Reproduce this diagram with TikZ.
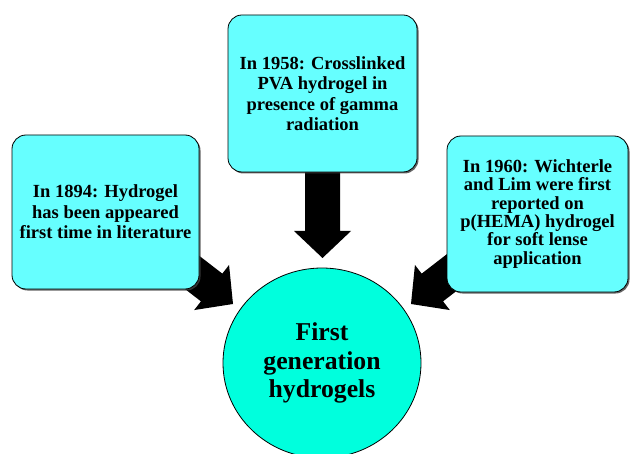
\documentclass[tikz,border=0pt]{standalone}
\usepackage{fontspec}
\setmainfont{Liberation Serif}
\usetikzlibrary{calc,shadows,shapes.geometric}

\definecolor{boxcyan}{RGB}{102,255,255}
\definecolor{discteal}{RGB}{0,255,221}

% Thick block arrow from #1 (tail, hidden under a box) to #2 (tip)
\newcommand\blockarrow[2]{%
  \coordinate (ab) at ($(#2)!27pt!(#1)$);
  \fill[arrowfill]
    ($(#1)!17.5pt!90:(#2)$) -- ($(ab)!17.5pt!90:(#2)$) --
    ($(ab)!28.5pt!90:(#2)$) -- (#2) --
    ($(ab)!28.5pt!-90:(#2)$) -- ($(ab)!17.5pt!-90:(#2)$) --
    ($(#1)!17.5pt!-90:(#2)$) -- cycle;
}

\tikzset{
  arrowfill/.style={fill=black},
  eventbox/.style={draw=black, line width=0.8pt, fill=boxcyan,
    rounded corners=14pt, inner sep=0pt, align=center,
    font=\bfseries\fontsize{18.5}{20.5}\selectfont,
    drop shadow={shadow xshift=1.5pt, shadow yshift=-1.5pt,
      fill=black!75, opacity=0.8}},
  centerdisc/.style={ellipse, draw=black, line width=0.8pt, fill=discteal,
    minimum width=198pt, minimum height=190pt, inner sep=0pt, align=center,
    font=\bfseries\fontsize{25.7}{28.5}\selectfont},
}

\begin{document}
\begin{tikzpicture}[x=1pt, y=-1pt]
  \useasboundingbox (0,0) rectangle (631,454);

  % arrow tails and tips
  \coordinate (lt) at (163.5,250.3);
  \coordinate (lh) at (233,304);
  \coordinate (ct) at (322.5,150);
  \coordinate (ch) at (322.5,258);
  \coordinate (rt) at (480.5,250.3);
  \coordinate (rh) at (411,304);

  \blockarrow{lt}{lh}
  \blockarrow{ct}{ch}
  \blockarrow{rt}{rh}

  % event boxes
  \node[eventbox, minimum width=187pt, minimum height=154pt] (y1894) at (105.5,212)
    {In 1894: Hydrogel\\has been appeared\\first time in literature};
  \node[eventbox, minimum width=189pt, minimum height=157pt] (y1958) at (322.5,93.5)
    {In 1958: Crosslinked\\PVA hydrogel in\\presence of gamma\\radiation};
  \node[eventbox, minimum width=181pt, minimum height=156pt,
        font=\bfseries\fontsize{18.5}{18.3}\selectfont] (y1960) at (537.5,214)
    {In 1960: Wichterle\\and Lim were first\\reported on\\p(HEMA) hydrogel\\for soft lense\\application};

  % central disc
  \node[centerdisc] (gen1) at (322,363) {First\\generation\\hydrogels};
\end{tikzpicture}
\end{document}
